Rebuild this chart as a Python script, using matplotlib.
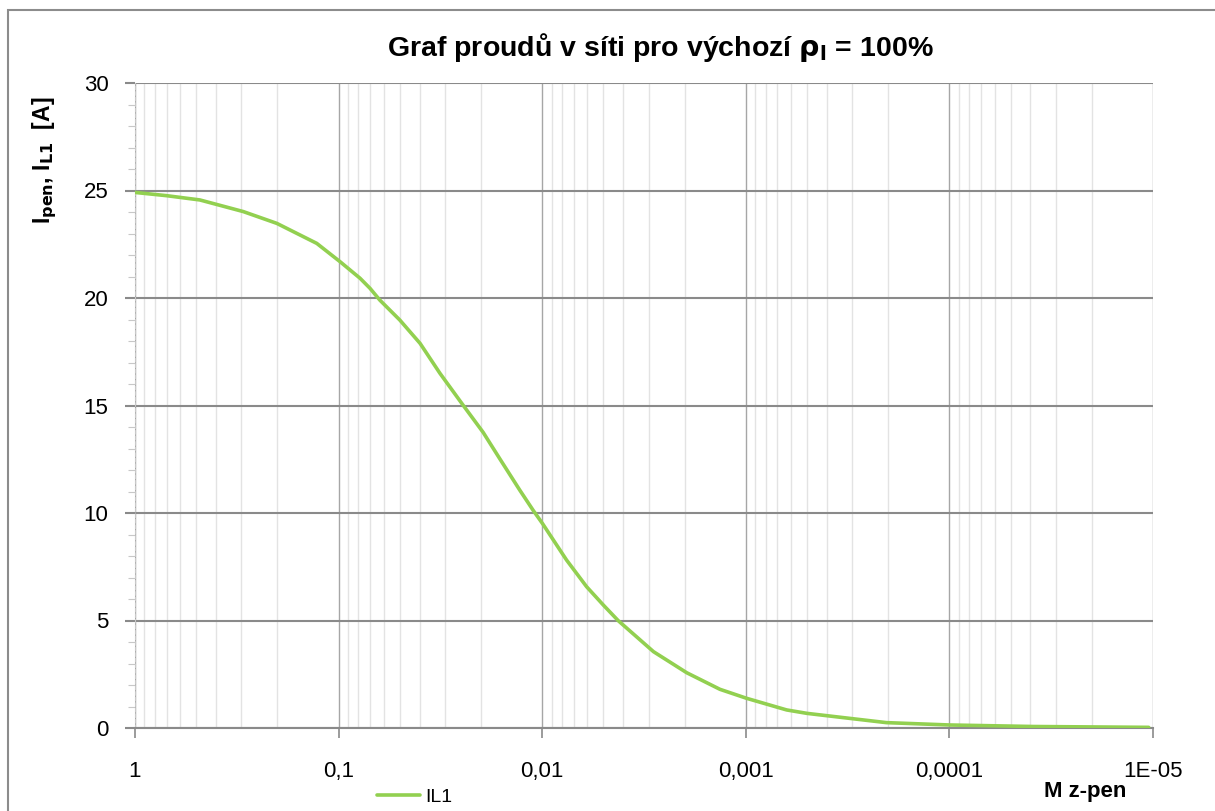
import matplotlib
matplotlib.use("Agg")
import matplotlib.pyplot as plt
from matplotlib.patches import Rectangle
from matplotlib.ticker import FixedLocator, NullFormatter

plt.rcParams['font.family'] = ['Liberation Sans', 'DejaVu Sans']

# values
mz_pen = [1, 0.70, 0.48, 0.294, 0.201, 0.128, 0.0984, 0.0785, 0.0701, 0.0627,
          0.0501, 0.0398, 0.0318, 0.0244, 0.0195, 0.0161, 0.0129, 0.01107,
          0.00995, 0.00759, 0.00605, 0.00501, 0.00423, 0.00284, 0.00195,
          0.00134, 0.00099, 0.00063, 0.0005, 0.000344, 0.000204, 0.0001,
          0.0000389, 0.0000105]
il1 = [24.91, 24.76, 24.56, 24.02, 23.47, 22.54, 21.69, 20.92, 20.45, 19.9,
       18.98, 17.89, 16.5, 15.0, 13.75, 12.5, 11.07, 10.12,
       9.5, 7.81, 6.57, 5.72, 4.99, 3.55, 2.57,
       1.80, 1.38, 0.84, 0.68, 0.50, 0.25, 0.14,
       0.07, 0.03]

x_ticks = [1, 0.1, 0.01, 0.001, 0.0001, 0.00001]
x_labels = ['1', '0,1', '0,01', '0,001', '0,0001', '1E-05']
y_ticks = [0, 5, 10, 15, 20, 25, 30]

W, H = 1215, 811
fig = plt.figure(figsize=(W / 100, H / 100), dpi=100)
ax = fig.add_axes([135 / W, 1 - 728 / H, (1153 - 135) / W, (728 - 83) / H])

# outer chart border
fig.patches.append(Rectangle((8 / W, -0.05), 1.2, 1 - 10 / H + 0.05,
                             transform=fig.transFigure, fill=False,
                             edgecolor='#8c8c8c', lw=1.5, zorder=0))

ax.plot(mz_pen, il1, color='#92d050', lw=2.6, label='IL1', zorder=5,
        solid_capstyle='round', solid_joinstyle='round')

ax.set_xscale('log')
ax.set_xlim(1, 1e-5)
ax.set_ylim(0, 30)

ax.xaxis.set_major_locator(FixedLocator(x_ticks))
ax.set_xticklabels(x_labels)
minors = [m * 10.0 ** e for e in range(-5, 0) for m in range(2, 10)]
ax.xaxis.set_minor_locator(FixedLocator(minors))
ax.xaxis.set_minor_formatter(NullFormatter())
ax.set_yticks(y_ticks)
ax.set_yticks(range(0, 31), minor=True)

ax.grid(which='major', axis='x', color='#a6a6a6', lw=1.0)
ax.grid(which='minor', axis='x', color='#e3e3e3', lw=1.0)
ax.grid(which='major', axis='y', color='#8a8a8a', lw=1.5)
ax.set_axisbelow(True)

ax.tick_params(axis='x', which='major', direction='out', length=7, width=1.2,
               color='#8a8a8a', labelsize=16, pad=17)
ax.tick_params(axis='x', which='minor', length=0)
ax.tick_params(axis='y', which='major', direction='out', length=7, width=1.5,
               color='#8a8a8a', labelsize=16, pad=12)
ax.tick_params(axis='y', which='minor', direction='out', length=5, width=0.8,
               color='#c8c8c8')

for s in ['top', 'right']:
    ax.spines[s].set_visible(False)
ax.spines['bottom'].set_color('#8a8a8a')
ax.spines['bottom'].set_linewidth(1.5)
ax.spines['left'].set_color('#c8c8c8')
ax.spines['left'].set_linestyle((0, (3, 2)))
ax.spines['left'].set_linewidth(0.8)

fig.text(660 / W, 1 - 47 / H, r'Graf proudů v síti pro výchozí $\mathbf{\rho_l}$ = 100%',
         ha='center', va='center', fontsize=20.5, fontweight='bold')
fig.text(45 / W, 1 - 160 / H, r'I$_{\mathbf{pen}}$, I$_{\mathbf{L1}}$  [A]',
         ha='center', va='center', rotation=90, fontsize=16.5, fontweight='bold')
fig.text(1085 / W, 1 - 792 / H, 'M z-pen', ha='center', va='center',
         fontsize=16, fontweight='bold')

fig.legend(loc='center', bbox_to_anchor=(415 / W, 1 - 797 / H), frameon=False,
           fontsize=14, handlelength=2.2, handletextpad=0.3)

fig.savefig('out.png', dpi=100)
